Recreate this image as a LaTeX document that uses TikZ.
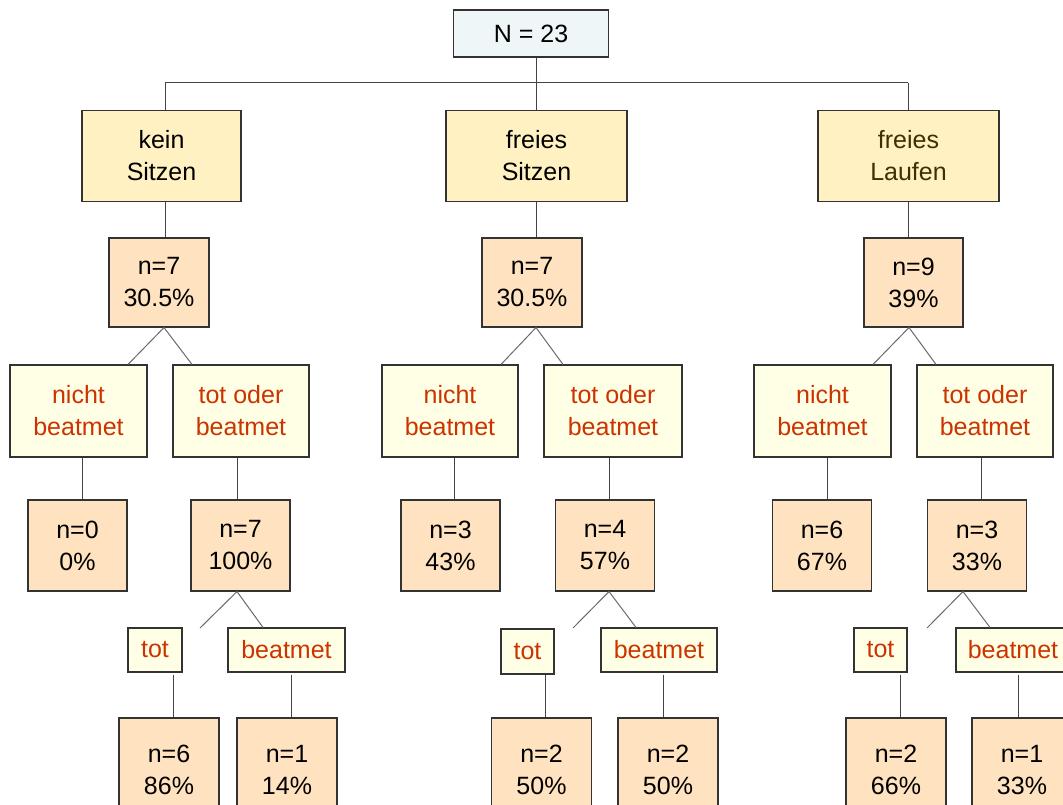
\documentclass[tikz,border=0pt]{standalone}
\usepackage{fontspec}
\setmainfont{Liberation Sans}
\definecolor{topfill}{HTML}{EEF6F7}
\definecolor{lonefill}{HTML}{FFF1C1}
\definecolor{nfill}{HTML}{FFE3C1}
\definecolor{redfill}{HTML}{FFFFE5}
\definecolor{redtext}{HTML}{CC3300}
\definecolor{olivetext}{HTML}{3F3000}
\definecolor{bordercol}{HTML}{333333}
\definecolor{linecol}{HTML}{444444}
\definecolor{diagcol}{HTML}{6A6A6A}
\tikzset{
  basebox/.style={draw=bordercol, line width=1.1pt, inner sep=0pt, align=center,
    font=\fontsize{25}{32}\selectfont},
  topbox/.style={basebox, fill=topfill, font=\fontsize{25}{32}\selectfont},
  lonebox/.style={basebox, fill=lonefill},
  nbox/.style={basebox, fill=nfill},
  redbox/.style={basebox, fill=redfill, text=redtext},
  conn/.style={draw=linecol, line width=1pt},
  diag/.style={draw=diagcol, line width=1pt},
}
\begin{document}
\begin{tikzpicture}[x=1pt,y=-1pt]
\clip (0,0) rectangle (1063,805);
\fill[white] (0,0) rectangle (1063,805);
% top
\node[topbox, minimum width=155pt, minimum height=47pt] (top) at (531,33.5) {N = 23};
% level 1
\node[lonebox, minimum width=159pt, minimum height=91pt] (ks) at (161.5,156) {kein\\Sitzen};
\node[lonebox, minimum width=181pt, minimum height=91pt] (fs) at (536.5,156) {freies\\Sitzen};
\node[lonebox, minimum width=181pt, minimum height=91pt, text=olivetext] (fl) at (908.5,156) {freies\\Laufen};
% level 2
\node[nbox, minimum width=100pt, minimum height=89pt] (n1) at (159,282.5) {n=7\\30.5\%};
\node[nbox, minimum width=100pt, minimum height=89pt] (n2) at (532,282.5) {n=7\\30.5\%};
\node[nbox, minimum width=99pt, minimum height=89pt] (n3) at (913.5,282.5) {n=9\\39\%};
% level 3
\node[redbox, minimum width=137pt, minimum height=92pt] (a1) at (78.5,411) {nicht\\beatmet};
\node[redbox, minimum width=136pt, minimum height=92pt] (a2) at (241,411) {tot oder\\beatmet};
\node[redbox, minimum width=136pt, minimum height=92pt] (b1) at (450,411) {nicht\\beatmet};
\node[redbox, minimum width=138pt, minimum height=92pt] (b2) at (613,411) {tot oder\\beatmet};
\node[redbox, minimum width=137pt, minimum height=92pt] (c1) at (822.5,411) {nicht\\beatmet};
\node[redbox, minimum width=136pt, minimum height=92pt] (c2) at (985,411) {tot oder\\beatmet};
% level 4
\node[nbox, minimum width=99pt, minimum height=91pt] (a1n) at (77.5,545.5) {n=0\\0\%};
\node[nbox, minimum width=99pt, minimum height=91pt] (a2n) at (240.5,545.5) {n=7\\100\%};
\node[nbox, minimum width=99pt, minimum height=91pt] (b1n) at (450.5,545.5) {n=3\\43\%};
\node[nbox, minimum width=99pt, minimum height=91pt] (b2n) at (605,545.5) {n=4\\57\%};
\node[nbox, minimum width=99pt, minimum height=91pt] (c1n) at (822,545.5) {n=6\\67\%};
\node[nbox, minimum width=99pt, minimum height=91pt] (c2n) at (977,545.5) {n=3\\33\%};
% level 5
\node[redbox, minimum width=54pt, minimum height=44pt] (at) at (155,650) {tot};
\node[redbox, minimum width=117pt, minimum height=44pt] (ab) at (286.5,650) {beatmet};
\node[redbox, minimum width=53pt, minimum height=45pt] (bt) at (527.5,651.5) {tot};
\node[redbox, minimum width=116pt, minimum height=44pt] (bb) at (659,650) {beatmet};
\node[redbox, minimum width=53pt, minimum height=44pt] (ct) at (880.5,650) {tot};
\node[redbox, minimum width=114pt, minimum height=44pt] (cb) at (1013,650) {beatmet};
% level 6
\node[nbox, minimum width=100pt, minimum height=104pt] (atn) at (169,770) {n=6\\86\%};
\node[nbox, minimum width=100pt, minimum height=104pt] (abn) at (287,770) {n=1\\14\%};
\node[nbox, minimum width=100pt, minimum height=104pt] (btn) at (541.5,770) {n=2\\50\%};
\node[nbox, minimum width=100pt, minimum height=104pt] (bbn) at (668,770) {n=2\\50\%};
\node[nbox, minimum width=100pt, minimum height=104pt] (ctn) at (896,770) {n=2\\66\%};
\node[nbox, minimum width=100pt, minimum height=104pt] (cbn) at (1022,770) {n=1\\33\%};
% bus
\coordinate (busL) at (165,83);
\coordinate (busM) at (536,83);
\coordinate (busR) at (908,83);
\draw[conn] (busL) -- (busR);
\draw[conn] ([xshift=5pt]top.south) -- (busM);
\draw[conn] (busL) -- (busL |- ks.north);
\draw[conn] (busM) -- (busM |- fs.north);
\draw[conn] (busR) -- (busR |- fl.north);
% level1 -> level2
\draw[conn] ([xshift=3.5pt]ks.south) -- ([xshift=6pt]n1.north);
\draw[conn] ([xshift=-0.5pt]fs.south) -- ([xshift=4pt]n2.north);
\draw[conn] ([xshift=-0.5pt]fl.south) -- ([xshift=-5.5pt]n3.north);
% level2 -> level3 diagonals
\draw[diag] ([xshift=49.5pt]a1.north) -- ([xshift=5pt]n1.south) -- ([xshift=-49pt]a2.north);
\draw[diag] ([xshift=51pt]b1.north) -- ([xshift=4pt]n2.south) -- ([xshift=-50pt]b2.north);
\draw[diag] ([xshift=50.5pt]c1.north) -- ([xshift=-4.5pt]n3.south) -- ([xshift=-49pt]c2.north);
% level3 -> level4
\draw[conn] ([xshift=3.5pt]a1.south) -- ([xshift=4.5pt]a1n.north);
\draw[conn] ([xshift=-4pt]a2.south) -- ([xshift=-3.5pt]a2n.north);
\draw[conn] ([xshift=4pt]b1.south) -- ([xshift=3.5pt]b1n.north);
\draw[conn] ([xshift=-4pt]b2.south) -- ([xshift=4pt]b2n.north);
\draw[conn] ([xshift=4.5pt]c1.south) -- ([xshift=5pt]c1n.north);
\draw[conn] ([xshift=-4pt]c2.south) -- ([xshift=4pt]c2n.north);
% level4 -> level5 diagonals
\coordinate (fa) at (200,628);
\coordinate (fb) at (573,628);
\coordinate (fc) at (927,628);
\draw[diag] (fa) -- ([xshift=-3.5pt]a2n.south) -- ([xshift=-23.5pt]ab.north);
\draw[diag] (fb) -- ([xshift=4pt]b2n.south) -- ([xshift=-23pt]bb.north);
\draw[diag] (fc) -- ([xshift=-14pt]c2n.south) -- ([xshift=-23pt]cb.north);
% level5 -> level6
\draw[conn] ([xshift=18pt,yshift=-2pt]at.south) -- ([xshift=4pt]atn.north);
\draw[conn] ([xshift=4.5pt,yshift=-2pt]ab.south) -- ([xshift=4pt]abn.north);
\draw[conn] ([xshift=17.5pt]bt.south) -- ([xshift=3.5pt]btn.north);
\draw[conn] ([xshift=4pt,yshift=-2pt]bb.south) -- ([xshift=-5pt]bbn.north);
\draw[conn] ([xshift=19.5pt,yshift=-2pt]ct.south) -- ([xshift=4pt]ctn.north);
\draw[conn] ([xshift=5pt,yshift=-2pt]cb.south) -- ([xshift=-4pt]cbn.north);
\end{tikzpicture}
\end{document}
